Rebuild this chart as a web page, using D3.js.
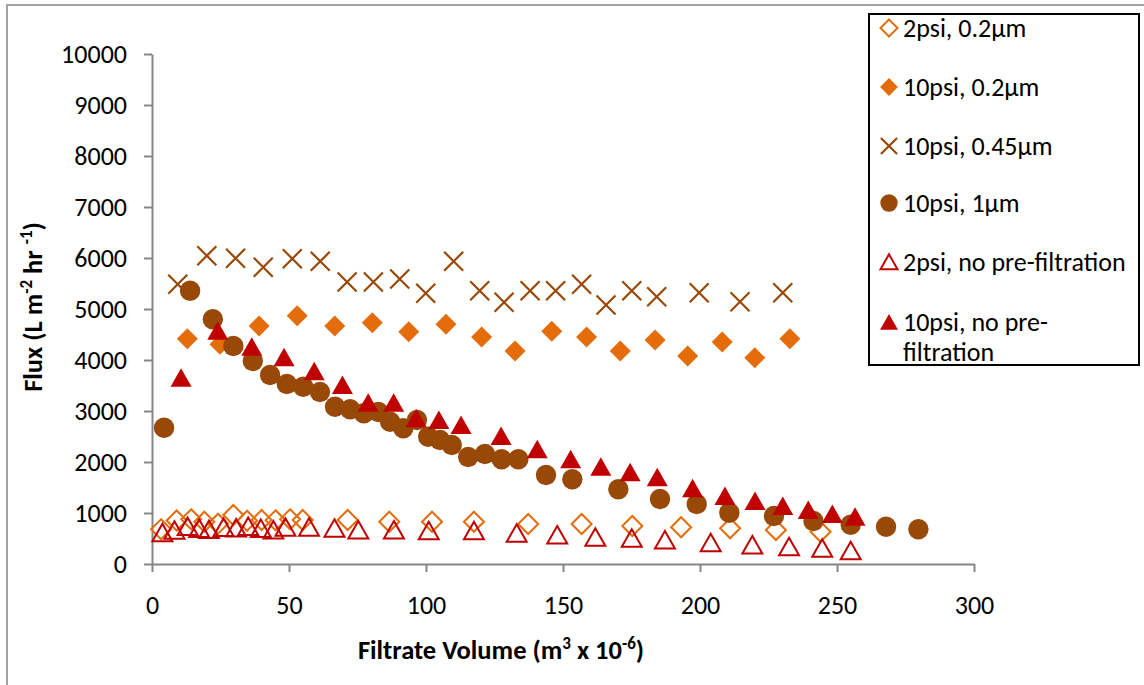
<!DOCTYPE html>
<html>
<head>
<meta charset="utf-8">
<script src="https://cdn.jsdelivr.net/npm/d3@7"></script>
<style>
  html, body { margin: 0; padding: 0; background: #fff; }
  svg { display: block; font-family: Carlito, Calibri, "Open Sans", sans-serif; }
</style>
</head>
<body>
<svg id="chart" width="1144" height="685"></svg>
<script>
// Filtrate volume (m^3 x 10^-6) and flux (L m^-2 hr^-1) for each run
const vol2psi02 = [3.3, 9.0, 14.3, 19.1, 24.1, 29.7, 34.7, 40.0, 45.1, 50.4, 55.0, 71.4, 86.6, 102.2, 117.5, 137.3, 156.8, 175.3, 193.1, 211.0, 227.7, 244.0];
const flux2psi02 = [680, 853, 876, 829, 790, 961, 847, 863, 857, 876, 863, 863, 829, 829, 829, 784, 784, 745, 720, 700, 667, 633];

const vol10psi02 = [12.9, 24.8, 39.1, 53.0, 66.7, 80.4, 93.7, 107.3, 120.3, 132.5, 145.9, 158.6, 170.9, 183.6, 195.5, 208.1, 220.0, 232.8];
const flux10psi02 = [4418, 4308, 4667, 4869, 4667, 4731, 4555, 4700, 4451, 4176, 4563, 4451, 4176, 4392, 4078, 4353, 4045, 4418];

const vol10psi045 = [9.4, 20.0, 30.5, 40.6, 51.2, 61.4, 71.2, 80.8, 90.4, 99.9, 110.1, 119.6, 128.5, 138.0, 147.3, 156.8, 165.7, 175.1, 184.2, 199.7, 214.6, 230.2];
const flux10psi045 = [5484, 6045, 5994, 5818, 5986, 5935, 5529, 5529, 5588, 5308, 5935, 5359, 5131, 5359, 5359, 5484, 5078, 5359, 5241, 5320, 5143, 5320];

const vol10psi1 = [4.4, 13.9, 22.2, 29.7, 36.8, 43.1, 49.2, 55.2, 61.3, 66.8, 72.3, 77.3, 82.6, 86.9, 91.7, 96.7, 100.8, 105.1, 109.4, 115.4, 121.5, 127.6, 133.7, 143.8, 153.4, 170.2, 185.4, 198.8, 210.7, 227.0, 241.4, 255.0, 267.9, 279.7];
const flux10psi1 = [2673, 5359, 4798, 4275, 3980, 3706, 3529, 3476, 3373, 3084, 3033, 2955, 2980, 2790, 2661, 2824, 2496, 2431, 2333, 2098, 2157, 2053, 2053, 1745, 1661, 1465, 1275, 1176, 1006, 941, 843, 771, 731, 680];

const vol2psiNone = [3.8, 8.2, 13.0, 17.2, 20.8, 26.1, 30.7, 35.1, 39.7, 44.3, 48.7, 57.3, 66.6, 75.3, 88.3, 101.0, 117.5, 133.1, 147.9, 161.8, 175.1, 187.2, 203.9, 219.1, 232.5, 244.6, 255.0];
const flux2psiNone = [614, 661, 735, 696, 676, 716, 706, 735, 696, 667, 720, 720, 700, 667, 667, 653, 653, 602, 569, 524, 504, 471, 418, 373, 339, 308, 261];

const vol10psiNone = [10.6, 24.0, 36.4, 48.2, 59.2, 69.5, 78.9, 88.2, 96.4, 104.7, 112.8, 127.4, 140.6, 152.8, 163.8, 174.5, 184.4, 197.3, 209.1, 220.1, 230.2, 239.5, 248.3, 256.6];
const flux10psiNone = [3653, 4575, 4261, 4053, 3778, 3510, 3163, 3163, 2857, 2824, 2725, 2510, 2249, 2053, 1908, 1798, 1700, 1484, 1333, 1235, 1137, 1059, 980, 927];

const seriesNames = ["2psi, 0.2\u00b5m", "10psi, 0.2\u00b5m", "10psi, 0.45\u00b5m", "10psi, 1\u00b5m", "2psi, no pre-filtration", "10psi, no pre-filtration"];
const xTicks = [0, 50, 100, 150, 200, 250, 300];
const yTicks = [0, 1000, 2000, 3000, 4000, 5000, 6000, 7000, 8000, 9000, 10000];

const ORANGE = "#E46C0A", BROWN = "#984807", RED = "#C00000", AXIS = "#868686";
const FONT = "Carlito, Calibri, 'Open Sans', sans-serif";

// Marker path builders (s = half-size in px)
const shapes = {
  diamond: s => `M0,${-s}L${s},0L0,${s}L${-s},0Z`,
  circle: s => `M${s},0A${s},${s} 0 1,1 ${-s},0A${s},${s} 0 1,1 ${s},0Z`,
  cross: s => `M${-s},${-s}L${s},${s}M${s},${-s}L${-s},${s}`,
  triangle: s => `M0,${-s * 0.95}L${s * 1.05},${s * 0.9}L${-s * 1.05},${s * 0.9}Z`
};

const series = [
  { name: seriesNames[0], xs: vol2psi02, ys: flux2psi02, shape: "diamond", size: 10, fill: "none", stroke: ORANGE, sw: 2 },
  { name: seriesNames[1], xs: vol10psi02, ys: flux10psi02, shape: "diamond", size: 10.5, fill: ORANGE, stroke: "none", sw: 0 },
  { name: seriesNames[2], xs: vol10psi045, ys: flux10psi045, shape: "cross", size: 9.5, fill: "none", stroke: BROWN, sw: 2.2 },
  { name: seriesNames[3], xs: vol10psi1, ys: flux10psi1, shape: "circle", size: 10.2, fill: BROWN, stroke: "none", sw: 0 },
  { name: seriesNames[4], xs: vol2psiNone, ys: flux2psiNone, shape: "triangle", size: 9.5, fill: "none", stroke: RED, sw: 2 },
  { name: seriesNames[5], xs: vol10psiNone, ys: flux10psiNone, shape: "triangle", size: 10, fill: RED, stroke: "none", sw: 0 }
];

const svg = d3.select("#chart");

// Outer chart frame (only top and left edges fall inside the page)
svg.append("rect").attr("x", 7).attr("y", 5).attr("width", 1150).attr("height", 700)
  .attr("fill", "#fff").attr("stroke", AXIS).attr("stroke-width", 1.5);

const x = d3.scaleLinear().domain([0, 300]).range([152, 974]);
const y = d3.scaleLinear().domain([0, 10000]).range([564, 54]);

// Axes
const xAxis = svg.append("g").attr("transform", `translate(0,${y(0)})`)
  .call(d3.axisBottom(x).tickValues(xTicks).tickFormat(d3.format("d"))
    .tickSize(8).tickPadding(24).tickSizeOuter(0));
const yAxis = svg.append("g").attr("transform", `translate(${x(0)},0)`)
  .call(d3.axisLeft(y).tickValues(yTicks).tickFormat(d3.format("d"))
    .tickSize(8).tickPadding(17).tickSizeOuter(0));

[xAxis, yAxis].forEach(g => {
  g.select(".domain").attr("stroke", AXIS).attr("stroke-width", 2);
  g.selectAll(".tick line").attr("stroke", AXIS).attr("stroke-width", 2);
  g.selectAll(".tick text").attr("fill", "#000").attr("font-size", 26).attr("font-family", FONT);
});

// Axis titles
const xt = svg.append("text").attr("x", 501).attr("y", 659).attr("text-anchor", "middle")
  .attr("font-weight", "bold").attr("font-size", 26.5);
xt.append("tspan").text("Filtrate Volume (m");
xt.append("tspan").attr("dy", -10).attr("font-size", 17).text("3");
xt.append("tspan").attr("dy", 10).text(" x 10");
xt.append("tspan").attr("dy", -10).attr("font-size", 17).text("-6");
xt.append("tspan").attr("dy", 10).text(")");

const yt = svg.append("text").attr("transform", "translate(42,307) rotate(-90)")
  .attr("text-anchor", "middle").attr("font-weight", "bold").attr("font-size", 26.5);
yt.append("tspan").text("Flux (L m");
yt.append("tspan").attr("dy", -10).attr("font-size", 17).text("-2");
yt.append("tspan").attr("dy", 10).text(" hr ");
yt.append("tspan").attr("dy", -10).attr("font-size", 17).text("-1");
yt.append("tspan").attr("dy", 10).text(")");

// Data markers
const plot = svg.append("g");
series.forEach(s => {
  const pts = s.xs.map((v, i) => [v, s.ys[i]]);
  plot.append("g").selectAll("path").data(pts).join("path")
    .attr("transform", d => `translate(${x(d[0])},${y(d[1])})`)
    .attr("d", shapes[s.shape](s.size))
    .attr("fill", s.fill).attr("stroke", s.stroke).attr("stroke-width", s.sw);
});

// Legend
const lg = svg.append("g");
lg.append("rect").attr("x", 869).attr("y", 14).attr("width", 270).attr("height", 351)
  .attr("fill", "#fff").attr("stroke", "#000").attr("stroke-width", 2);
const rowY = [28, 87, 146, 203, 262, 322];
series.forEach((s, i) => {
  lg.append("path").attr("transform", `translate(889,${rowY[i]})`)
    .attr("d", shapes[s.shape](s.size * 0.85))
    .attr("fill", s.fill).attr("stroke", s.stroke).attr("stroke-width", s.sw);
  const t = lg.append("text").attr("x", 903).attr("y", rowY[i] + 8.5).attr("font-size", 26).attr("fill", "#000");
  if (i === 5) {
    t.text("10psi, no pre-");
    lg.append("text").attr("x", 903).attr("y", rowY[i] + 39).attr("font-size", 26).attr("fill", "#000").text("filtration");
  } else {
    t.text(s.name);
  }
});
</script>
</body>
</html>
